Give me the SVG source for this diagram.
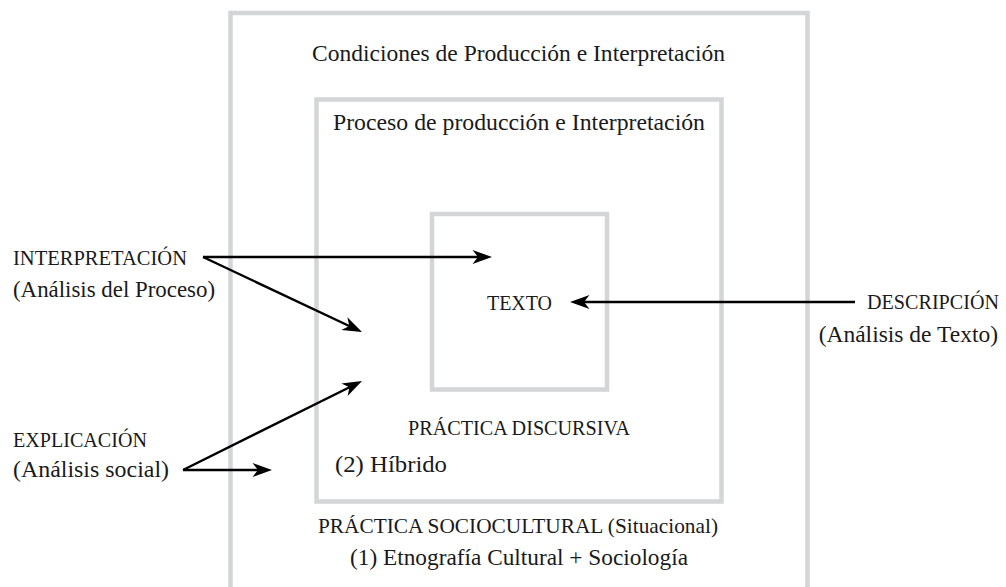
<svg xmlns="http://www.w3.org/2000/svg" width="1006" height="587" viewBox="0 0 1006 587">
  <style>
    .box { fill: none; stroke: #d4d5d6; stroke-width: 4.5; }
    .lbl { font-family: "Liberation Serif", "Times New Roman", serif; font-size: 23.5px; fill: #1a1a1a; }
    .caps { font-size: 21px; }
    .mid { text-anchor: middle; }
    .end { text-anchor: end; }
    .conn { stroke: #000; stroke-width: 2.4; fill: none; marker-end: url(#arrow); }
  </style>
  <defs>
    <marker id="arrow" markerUnits="userSpaceOnUse" markerWidth="40" markerHeight="40" viewBox="-20 -20 40 40" refX="0" refY="0" orient="auto">
      <path d="M10,0 L-9.5,-7 L-4,0 L-9.5,7 Z" fill="#000"/>
    </marker>
  </defs>
  <rect width="1006" height="587" fill="#fff"/>

  <g id="outer">
    <rect class="box" x="230.5" y="13" width="577" height="620"/>
    <text class="lbl mid" x="518.5" y="61" textLength="413" lengthAdjust="spacingAndGlyphs">Condiciones de Producción e Interpretación</text>
    <text class="lbl caps mid" x="518" y="533" textLength="400" lengthAdjust="spacingAndGlyphs">PRÁCTICA SOCIOCULTURAL (Situacional)</text>
    <text class="lbl mid" x="519" y="565" textLength="338" lengthAdjust="spacingAndGlyphs">(1) Etnografía Cultural + Sociología</text>
  </g>

  <g id="middle">
    <rect class="box" x="316.5" y="99.5" width="405" height="402"/>
    <text class="lbl mid" x="519" y="130" textLength="372" lengthAdjust="spacingAndGlyphs">Proceso de producción e Interpretación</text>
    <text class="lbl caps mid" x="519" y="435" textLength="222" lengthAdjust="spacingAndGlyphs">PRÁCTICA DISCURSIVA</text>
    <text class="lbl" x="335" y="472" textLength="112" lengthAdjust="spacingAndGlyphs">(2) Híbrido</text>
  </g>

  <g id="inner">
    <rect class="box" x="432" y="214" width="175" height="175.5"/>
    <text class="lbl caps mid" x="519.5" y="310" textLength="65" lengthAdjust="spacingAndGlyphs">TEXTO</text>
  </g>

  <g id="interpretacion">
    <text class="lbl caps" x="13" y="265" textLength="174" lengthAdjust="spacingAndGlyphs">INTERPRETACIÓN</text>
    <text class="lbl" x="13" y="297" textLength="202" lengthAdjust="spacingAndGlyphs">(Análisis del Proceso)</text>
  </g>

  <g id="explicacion">
    <text class="lbl caps" x="13" y="447" textLength="134" lengthAdjust="spacingAndGlyphs">EXPLICACIÓN</text>
    <text class="lbl" x="13" y="477" textLength="156" lengthAdjust="spacingAndGlyphs">(Análisis social)</text>
  </g>

  <g id="descripcion">
    <text class="lbl caps end" x="999" y="309" textLength="132" lengthAdjust="spacingAndGlyphs">DESCRIPCIÓN</text>
    <text class="lbl end" x="998" y="342" font-size="21.5">(Análisis de Texto)</text>
  </g>

  <g id="connectors">
    <line class="conn" x1="203" y1="257" x2="482" y2="257"/>
    <line class="conn" x1="203" y1="257" x2="352.96" y2="327.73"/>
    <line class="conn" x1="183" y1="470" x2="353.04" y2="385.45"/>
    <line class="conn" x1="183" y1="470" x2="262" y2="470"/>
    <line class="conn" x1="855" y1="302" x2="580" y2="302"/>
  </g>
</svg>
